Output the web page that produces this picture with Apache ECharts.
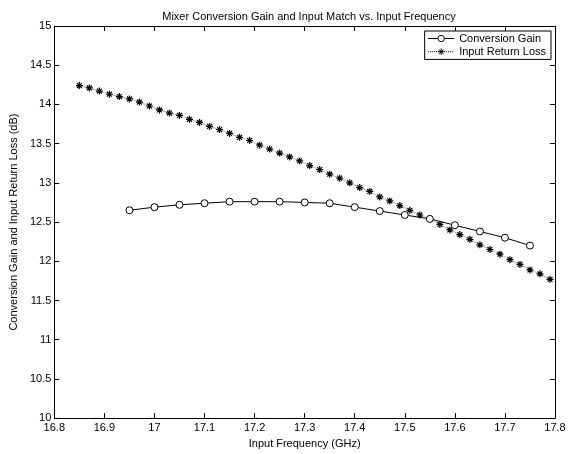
<!DOCTYPE html>
<html>
<head>
<meta charset="utf-8">
<script src="https://cdn.jsdelivr.net/npm/echarts@6/dist/echarts.min.js"></script>
<style>
  html, body { margin: 0; padding: 0; background: #fff; }
  #main { width: 572px; height: 454px; }
</style>
</head>
<body>
<div id="main"></div>
<script>
// conversion gain, sampled every 0.05 GHz
var gainFreq = [16.95, 17.00, 17.05, 17.10, 17.15, 17.20, 17.25, 17.30, 17.35,
    17.40, 17.45, 17.50, 17.55, 17.60, 17.65, 17.70, 17.75];
var gainDb = [12.65, 12.69, 12.72, 12.74, 12.76, 12.76, 12.76, 12.75, 12.74,
    12.69, 12.64, 12.59, 12.54, 12.46, 12.38, 12.30, 12.20];

// input return loss, sampled every 0.02 GHz
var rlFreq = [16.85, 16.87, 16.89, 16.91, 16.93, 16.95, 16.97, 16.99, 17.01, 17.03,
    17.05, 17.07, 17.09, 17.11, 17.13, 17.15, 17.17, 17.19, 17.21, 17.23,
    17.25, 17.27, 17.29, 17.31, 17.33, 17.35, 17.37, 17.39, 17.41, 17.43,
    17.45, 17.47, 17.49, 17.51, 17.53, 17.55, 17.57, 17.59, 17.61, 17.63,
    17.65, 17.67, 17.69, 17.71, 17.73, 17.75, 17.77, 17.79];
var rlDb = [14.24, 14.21, 14.17, 14.13, 14.10, 14.07, 14.03, 13.98, 13.93, 13.89,
    13.86, 13.81, 13.77, 13.72, 13.68, 13.63, 13.58, 13.54, 13.48, 13.43,
    13.38, 13.33, 13.28, 13.22, 13.17, 13.11, 13.06, 13.00, 12.94, 12.89,
    12.82, 12.77, 12.71, 12.65, 12.59, 12.54, 12.47, 12.40, 12.34, 12.28,
    12.21, 12.15, 12.09, 12.02, 11.96, 11.89, 11.84, 11.77];

var font = 'Liberation Sans, Arial, sans-serif';
var starPath = 'path://M5,0L5,10M0,5L10,5M1.5,1.5L8.5,8.5M8.5,1.5L1.5,8.5';

function zip(xs, ys) {
    return xs.map(function (x, i) { return [x, ys[i]]; });
}

var myChart = echarts.init(document.getElementById('main'));

var axisCommon = {
    type: 'value',
    axisLine: { show: true, lineStyle: { color: '#000', width: 1 } },
    axisTick: { show: true, inside: true, length: 5, lineStyle: { color: '#000' } },
    splitLine: { show: false },
    axisLabel: { color: '#000', fontFamily: font, fontSize: 11 }
};

var option = {
    backgroundColor: '#fff',
    animation: false,
    title: {
        text: 'Mixer Conversion Gain and Input Match vs. Input Frequency',
        left: 304,
        textAlign: 'center',
        top: 6,
        textStyle: { fontFamily: font, fontSize: 11, fontWeight: 'normal', color: '#000' }
    },
    legend: {
        orient: 'vertical',
        right: 21,
        top: 31,
        padding: [2, 5, 2, 3],
        itemGap: 2,
        itemWidth: 26,
        itemHeight: 8,
        borderColor: '#000',
        borderWidth: 1,
        backgroundColor: '#fff',
        lineStyle: { width: 1 },
        itemStyle: { borderWidth: 1 },
        textStyle: { fontFamily: font, fontSize: 11, color: '#000' },
        data: ['Conversion Gain', 'Input Return Loss']
    },
    grid: { left: 53, right: 17, top: 26, bottom: 31 },
    xAxis: [
        Object.assign({}, axisCommon, {
            min: 16.8, max: 17.8, interval: 0.1,
            name: 'Input Frequency (GHz)',
            nameLocation: 'middle',
            nameGap: 17,
            nameTextStyle: { fontFamily: font, fontSize: 11, color: '#000' },
            axisLabel: { color: '#000', fontFamily: font, fontSize: 11, margin: 4 }
        }),
        Object.assign({}, axisCommon, {
            min: 16.8, max: 17.8, interval: 0.1, position: 'top',
            axisLabel: { show: false }
        })
    ],
    yAxis: [
        Object.assign({}, axisCommon, {
            min: 10, max: 15, interval: 0.5,
            name: 'Conversion Gain and Input Return Loss (dB)',
            nameLocation: 'middle',
            nameGap: 27,
            nameTextStyle: { fontFamily: font, fontSize: 11, color: '#000' },
            axisLabel: { color: '#000', fontFamily: font, fontSize: 11, margin: 3 }
        }),
        Object.assign({}, axisCommon, {
            min: 10, max: 15, interval: 0.5, position: 'right',
            axisLabel: { show: false }
        })
    ],
    series: [
        {
            name: 'Conversion Gain',
            type: 'line',
            data: zip(gainFreq, gainDb),
            symbol: 'circle',
            symbolSize: 7,
            showAllSymbol: true,
            lineStyle: { color: '#000', width: 1 },
            itemStyle: { color: '#fff', borderColor: '#000', borderWidth: 1 },
            z: 3
        },
        {
            name: 'Input Return Loss',
            type: 'line',
            data: zip(rlFreq, rlDb),
            symbol: starPath,
            symbolSize: 7,
            showAllSymbol: true,
            lineStyle: { color: '#000', width: 0.6, type: 'dotted' },
            itemStyle: { color: 'none', borderColor: '#000', borderWidth: 1.2 },
            z: 2
        }
    ]
};

myChart.setOption(option);
</script>
</body>
</html>
